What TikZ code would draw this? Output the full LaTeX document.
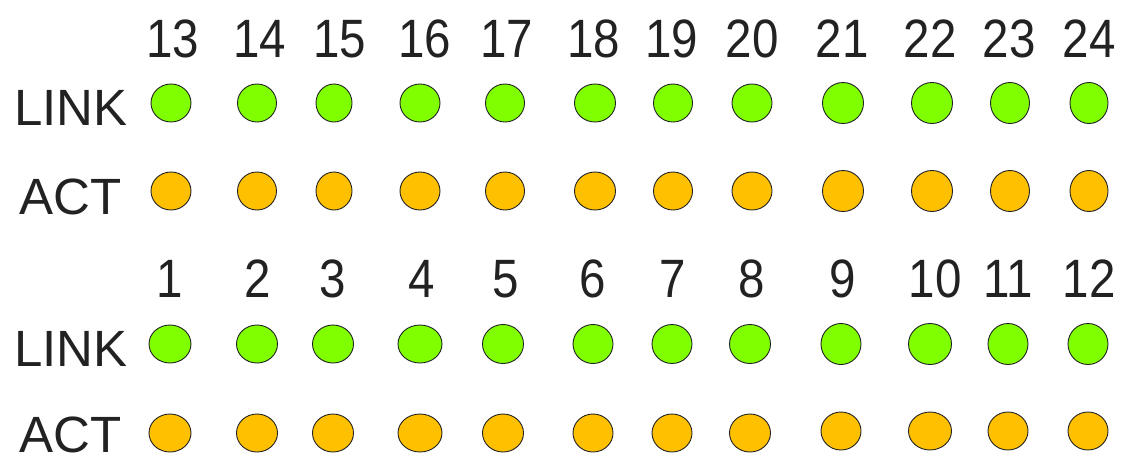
\documentclass[tikz,border=0pt]{standalone}
\usepackage{fontspec}
\setmainfont{Liberation Sans}
\newfontfamily\numfont[FakeStretch=0.88]{Liberation Sans}
\usetikzlibrary{shapes.geometric}
\definecolor{ledgreen}{HTML}{80FF00}
\definecolor{ledorange}{HTML}{FFC000}
\definecolor{ink}{HTML}{222222}
\begin{document}
\begin{tikzpicture}[x=1pt,y=-1pt,
  led/.style={ellipse,draw=ink,line width=0.9pt,inner sep=0pt},
  linkled/.style={led,fill=ledgreen},
  actled/.style={led,fill=ledorange},
  num/.style={anchor=base,inner sep=0pt,text=ink,font=\numfont\fontsize{54}{60}\selectfont},
  rowlab/.style={anchor=base west,inner sep=0pt,text=ink,font=\fontsize{51}{60}\selectfont}]
\useasboundingbox (0,0) rectangle (1122,459);
% row labels
\node[rowlab] (linkT) at (14,125) {LINK};
\node[rowlab] (actT) at (19,214) {ACT};
\node[rowlab] (linkB) at (14,366) {LINK};
\node[rowlab] (actB) at (19,452) {ACT};
% top block: ports 13-24
\foreach \n/\lx/\x/\w/\h in {13/173/171/40/38,14/260/257/39/38,15/340/334/36/38,16/425/420/40/38,
  17/507/505/39/38,18/594/595/41/38,19/672/673/39/38,20/752/752/40/38,
  21/842/843/41/41,22/930/932/41/41,23/1009/1010/39/41,24/1089/1089/38/41}{
  \node[num] (n\n) at (\lx,57) {\n};
  \node[linkled,minimum width=\w,minimum height=\h] (L\n) at (\x,103) {};
  \node[actled,minimum width=\w,minimum height=\h] (A\n) at (\x,191) {};
}
% bottom block: ports 1-12
\foreach \n/\lx/\x/\w/\h/\ay in {1/170/170/42/38/433,2/258/257/41/38/433,3/333/333/41/38/433,4/422/420/44/38/433,
  5/506/503/41/39/433,6/593/593/40/39/433,7/673/672/40/39/433,8/752/750/41/39/433,
  9/843/841/40/41/431,10/935/930/43/41/431,11/1008/1008/40/41/431,12/1089/1088/40/41/431}{
  \node[num] (n\n) at (\lx,297) {\n};
  \node[linkled,minimum width=\w,minimum height=\h] (L\n) at (\x,344) {};
  \node[actled,minimum width=\w,minimum height=38] (A\n) at (\x,\ay) {};
}
\end{tikzpicture}
\end{document}
